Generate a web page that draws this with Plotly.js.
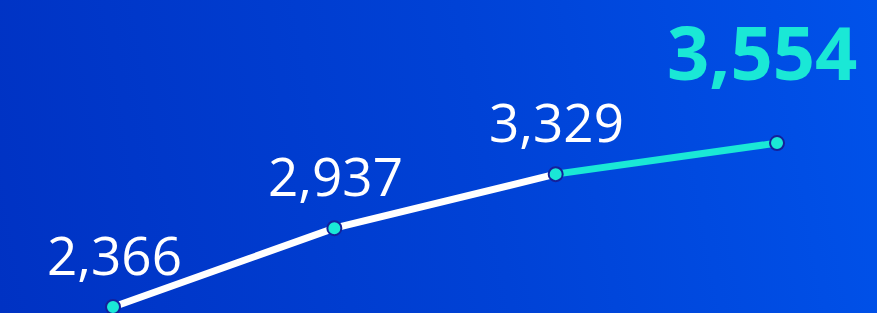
<!DOCTYPE html>
<html>
<head>
<meta charset="utf-8">
<script src="https://cdn.plot.ly/plotly-3.0.1.min.js"></script>
<style>
  html, body { margin: 0; padding: 0; width: 877px; height: 313px; overflow: hidden; }
  body { background: linear-gradient(80deg, #0032c3 0%, #0042d6 55%, #0052ea 100%); }
  #chart { width: 877px; height: 313px; }
</style>
</head>
<body>
<div id="chart"></div>
<script>
const categories = [0, 1, 2, 3];
const values = [2366, 2937, 3329, 3554];
const labels = ["2,366", "2,937", "3,329", "3,554"];

const cyan = "#1ae8d6";
const navy = "#14209a";

const whiteIdx = [0, 1, 2];
const cyanIdx = [2, 3];

const traces = [
  {
    x: whiteIdx.map(i => categories[i]),
    y: whiteIdx.map(i => values[i]),
    mode: "lines",
    line: { color: "#ffffff", width: 7 },
    hoverinfo: "skip"
  },
  {
    x: cyanIdx.map(i => categories[i]),
    y: cyanIdx.map(i => values[i]),
    mode: "lines",
    line: { color: cyan, width: 7 },
    hoverinfo: "skip"
  },
  {
    x: categories,
    y: values,
    mode: "markers",
    marker: { size: 14, color: cyan, line: { color: navy, width: 2 } },
    hoverinfo: "skip"
  }
];

const annotations = categories.map((c, i) => {
  const last = i === categories.length - 1;
  return {
    x: c, y: values[i], xref: "x", yref: "y",
    text: last ? "<b>" + labels[i] + "</b>" : labels[i],
    showarrow: false,
    xanchor: "center", yanchor: "middle",
    xshift: last ? -15 : 1,
    yshift: last ? 92 : 53,
    font: {
      family: "Open Sans, Noto Sans, sans-serif",
      size: last ? 74 : 53,
      color: last ? cyan : "#ffffff"
    }
  };
});

const layout = {
  width: 877, height: 313,
  margin: { l: 0, r: 0, t: 0, b: 0 },
  paper_bgcolor: "rgba(0,0,0,0)",
  plot_bgcolor: "rgba(0,0,0,0)",
  showlegend: false,
  xaxis: { range: [-0.5106, 3.4517], visible: false, fixedrange: true },
  yaxis: { range: [2322.5, 4591], visible: false, fixedrange: true },
  annotations: annotations
};

Plotly.newPlot("chart", traces, layout, { displayModeBar: false, staticPlot: true });
</script>
</body>
</html>
